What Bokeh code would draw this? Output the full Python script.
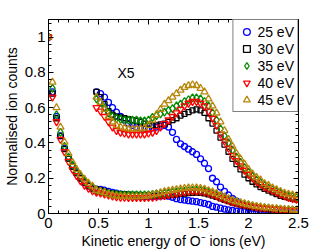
from bokeh.plotting import figure
from bokeh.models import (LinearAxis, Range1d, Legend, LegendItem, Label, FixedTicker,
                          CustomLabelingPolicy)
from bokeh.embed import file_html
from bokeh.resources import INLINE

# ---------------- data ----------------
energy_low = [0.0, 0.04, 0.08, 0.12, 0.16, 0.20, 0.24, 0.28, 0.32, 0.36, 0.40, 0.44]
energy_x5 = [round(0.48 + 0.04 * i, 2) for i in range(51)]

# normalised counts below 0.48 eV
blue_low = [1.0, 0.69, 0.55, 0.44, 0.37, 0.315, 0.27, 0.23, 0.20, 0.175, 0.155, 0.14]
black_low = [1.0, 0.68, 0.54, 0.44, 0.365, 0.31, 0.265, 0.23, 0.20, 0.175, 0.158, 0.143]
green_low = [1.0, 0.71, 0.56, 0.46, 0.38, 0.32, 0.275, 0.24, 0.21, 0.185, 0.165, 0.148]
red_low = [1.0, 0.66, 0.52, 0.42, 0.35, 0.295, 0.25, 0.215, 0.185, 0.16, 0.142, 0.128]
brown_low = [1.0, 0.745, 0.60, 0.49, 0.405, 0.34, 0.29, 0.25, 0.22, 0.195, 0.172, 0.155]

# magnified (X5) counts from 0.48 eV
blue_x5 = [0.69, 0.68, 0.66, 0.63, 0.60, 0.575, 0.55, 0.53, 0.51, 0.50, 0.49, 0.485,
           0.48, 0.48, 0.485, 0.49, 0.495, 0.50, 0.49, 0.46, 0.42, 0.395, 0.38, 0.365,
           0.35, 0.335, 0.31, 0.285, 0.255, 0.20, 0.18, 0.15, 0.125, 0.105, 0.085, 0.07,
           0.055, 0.045, 0.035, 0.03, 0.028, 0.026, 0.024, 0.022, 0.021, 0.02, 0.019,
           0.018, 0.017, 0.016, 0.015]
black_x5 = [0.69, 0.66, 0.62, 0.58, 0.56, 0.55, 0.545, 0.54, 0.535, 0.53, 0.525, 0.52,
            0.51, 0.505, 0.50, 0.50, 0.505, 0.51, 0.52, 0.53, 0.54, 0.555, 0.565, 0.575,
            0.585, 0.59, 0.585, 0.57, 0.54, 0.51, 0.47, 0.43, 0.39, 0.35, 0.31, 0.28,
            0.25, 0.22, 0.20, 0.18, 0.165, 0.15, 0.14, 0.13, 0.12, 0.11, 0.10, 0.095,
            0.09, 0.085, 0.08]
green_x5 = [0.65, 0.63, 0.60, 0.57, 0.55, 0.54, 0.535, 0.53, 0.53, 0.53, 0.53, 0.525,
            0.525, 0.53, 0.545, 0.555, 0.565, 0.575, 0.585, 0.595, 0.61, 0.62, 0.635,
            0.645, 0.655, 0.655, 0.65, 0.635, 0.61, 0.57, 0.53, 0.48, 0.44, 0.40, 0.36,
            0.32, 0.29, 0.26, 0.235, 0.21, 0.19, 0.175, 0.16, 0.145, 0.135, 0.125, 0.115,
            0.105, 0.10, 0.095, 0.09]
red_x5 = [0.60, 0.58, 0.55, 0.52, 0.49, 0.47, 0.46, 0.455, 0.45, 0.45, 0.45, 0.45,
          0.45, 0.455, 0.46, 0.47, 0.49, 0.51, 0.53, 0.55, 0.57, 0.59, 0.61, 0.625,
          0.635, 0.635, 0.625, 0.61, 0.58, 0.54, 0.50, 0.45, 0.41, 0.37, 0.33, 0.30,
          0.27, 0.245, 0.22, 0.20, 0.18, 0.165, 0.15, 0.14, 0.13, 0.12, 0.11, 0.10,
          0.09, 0.085, 0.08]
brown_x5 = [0.66, 0.63, 0.59, 0.55, 0.52, 0.50, 0.49, 0.485, 0.48, 0.48, 0.48, 0.48,
            0.485, 0.50, 0.53, 0.56, 0.59, 0.62, 0.64, 0.66, 0.68, 0.70, 0.715, 0.725,
            0.73, 0.725, 0.71, 0.69, 0.65, 0.61, 0.57, 0.52, 0.47, 0.42, 0.38, 0.34,
            0.31, 0.28, 0.25, 0.225, 0.205, 0.19, 0.17, 0.16, 0.145, 0.135, 0.125, 0.115,
            0.11, 0.105, 0.10]

labels = ["25 eV", "30 eV", "35 eV", "40 eV", "45 eV"]
x5_factor = 5
x_ticks = [0, 0.5, 1, 1.5, 2, 2.5]
x_minor = [round(0.1 * i, 2) for i in range(26)]
y_ticks = [0, 0.2, 0.4, 0.6, 0.8, 1.0]
y_minor = [round(0.04 * i, 2) for i in range(28)]

# ---------------- figure ----------------
FONT = "Liberation Sans"
p = figure(width=330, height=251, output_backend="svg", toolbar_location=None,
           x_range=Range1d(0, 2.5), y_range=Range1d(0, 1.1),
           min_border_left=43, min_border_right=32, min_border_top=19, min_border_bottom=38)
p.xgrid.visible = False
p.ygrid.visible = False
p.outline_line_color = "black"
p.outline_line_width = 1
p.background_fill_color = "white"
p.border_fill_color = "white"


def style_axis(ax, ticks, minor, show_labels=True):
    ax.ticker = FixedTicker(ticks=ticks, minor_ticks=minor)
    ax.major_tick_in = 5
    ax.major_tick_out = 0
    ax.minor_tick_in = 3
    ax.minor_tick_out = 0
    ax.axis_line_color = "black"
    ax.major_tick_line_color = "black"
    ax.minor_tick_line_color = "black"
    ax.major_label_text_font = FONT
    ax.major_label_text_font_size = "15px"
    ax.major_label_text_color = "black"
    ax.axis_label_text_font = FONT
    ax.axis_label_text_font_size = "14px"
    ax.axis_label_text_font_style = "normal"
    ax.axis_label_text_color = "black"
    if not show_labels:
        ax.major_label_policy = CustomLabelingPolicy(code="return []")
        ax.major_label_text_font_size = "1px"
        ax.major_label_standoff = 0


style_axis(p.xaxis[0], x_ticks, x_minor)
style_axis(p.yaxis[0], y_ticks, y_minor)
p.xaxis[0].axis_label = "Kinetic energy of O\u207b ions (eV)"
p.yaxis[0].axis_label = "Normalised ion counts"
p.xaxis[0].major_label_standoff = 4
p.yaxis[0].major_label_standoff = 3
p.xaxis[0].axis_label_standoff = 2
p.yaxis[0].axis_label_standoff = 2
p.xaxis[0].major_label_overrides = {0: "0", 0.5: "0.5", 1: "1", 1.5: "1.5", 2: "2", 2.5: "2.5"}
p.yaxis[0].major_label_overrides = {0: "0", 0.2: "0.2", 0.4: "0.4", 0.6: "0.6", 0.8: "0.8", 1: "1"}

top_ax = LinearAxis()
style_axis(top_ax, x_ticks, x_minor, show_labels=False)
p.add_layout(top_ax, "above")
right_ax = LinearAxis()
style_axis(right_ax, y_ticks, y_minor, show_labels=False)
p.add_layout(right_ax, "right")

# ---------------- series ----------------
series = [
    (blue_low, blue_x5, "circle", "#0000ff", 6),
    (black_low, black_x5, "square", "#000000", 5),
    (green_low, green_x5, "diamond", "#008c00", 8),
    (red_low, red_x5, "inverted_triangle", "#ff0000", 7),
    (brown_low, brown_x5, "triangle", "#b8860b", 7),
]

items = []
for (low, x5, marker, color, size), lab in zip(series, labels):
    xs = energy_low + energy_x5
    ys = low + [v / x5_factor for v in x5]
    r = p.scatter(xs, ys, marker=marker, size=size, fill_color=None,
                  line_color=color, line_width=1.3)
    p.scatter(energy_x5, x5, marker=marker, size=size, fill_color=None,
              line_color=color, line_width=1.3)
    items.append(LegendItem(label=lab, renderers=[r]))

legend = Legend(items=items, location="top_right")
legend.label_text_font = FONT
legend.label_text_font_size = "14px"
legend.label_text_color = "black"
legend.glyph_width = 20
legend.glyph_height = 17
legend.label_height = 17
legend.label_standoff = 1
legend.spacing = 0
legend.padding = 3
legend.margin = 0
legend.border_line_color = "black"
legend.border_line_width = 1
legend.background_fill_alpha = 1
p.add_layout(legend)

p.add_layout(Label(x=0.69, y=0.795, text="X5", text_font=FONT, text_font_size="14px",
                   text_color="black", text_baseline="middle", text_align="left"))

open("out.html", "w").write(file_html(p, INLINE))
